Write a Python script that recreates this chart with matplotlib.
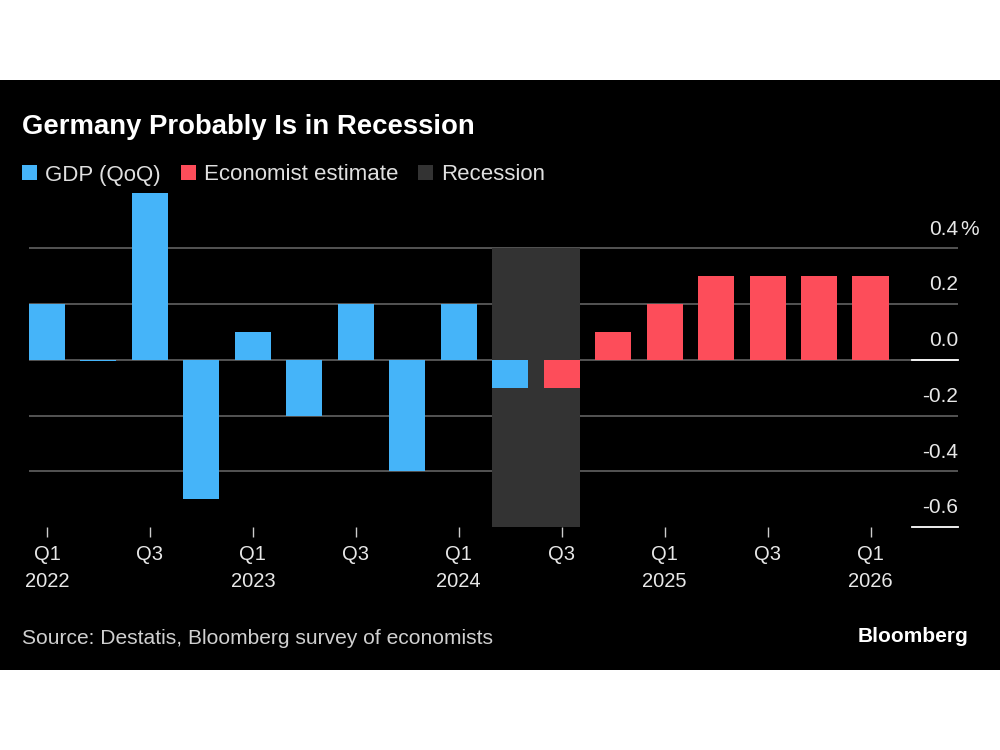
import numpy as np
import matplotlib
matplotlib.use("Agg")
from matplotlib import pyplot as plt
from matplotlib.patches import Patch, Rectangle
import matplotlib.transforms as mtransforms

plt.rcParams['font.family'] = ['Liberation Sans', 'DejaVu Sans']

# quarterly GDP growth, QoQ %
quarters = ["Q1", "Q2", "Q3", "Q4"] * 4 + ["Q1"]
years = [2022] * 4 + [2023] * 4 + [2024] * 4 + [2025] * 4 + [2026]
gdp_actual = [0.2, -0.005, 0.6, -0.5, 0.1, -0.2, 0.2, -0.4, 0.2, -0.1]
gdp_estimate = [-0.1, 0.1, 0.2, 0.3, 0.3, 0.3, 0.3]
recession_quarters = [9, 10]  # Q2 2024 - Q3 2024
y_ticks = [-0.6, -0.4, -0.2, 0.0, 0.2, 0.4]

blue = "#45b4f9"
red = "#fd4d5a"
shade = "#333333"
grid_col = "#626262"

fig = plt.figure(figsize=(10, 7.5), dpi=100, facecolor="white")
# black panel
fig.patches.append(Rectangle((0, 1 - 670 / 750), 1, 590 / 750, transform=fig.transFigure,
                             facecolor="black", edgecolor="none", zorder=-10))

ax = fig.add_axes([0.029, 0.2973, 0.929, 0.446])
ax.set_facecolor("none")

x_act = np.arange(len(gdp_actual))
x_est = np.arange(len(gdp_actual), len(gdp_actual) + len(gdp_estimate))
w = 0.7

ax.set_xlim(-0.35, 17.70)
ax.set_ylim(-0.6, 0.6)

# gridlines
for v in y_ticks:
    if v > -0.6:
        ax.axhline(v, color=grid_col, lw=1.2, zorder=1)

# recession shading
ax.axvspan(recession_quarters[0] - w / 2, recession_quarters[-1] + w / 2,
           ymin=0, ymax=(0.4 + 0.6) / 1.2, color=shade, lw=0, zorder=2)

ax.bar(x_act, gdp_actual, width=w, color=blue, zorder=3)
ax.bar(x_est, gdp_estimate, width=w, color=red, zorder=3)

# short white marks at zero and bottom on the right
trans = mtransforms.blended_transform_factory(ax.transAxes, ax.transData)
for v in [0.0, -0.6]:
    ax.plot([0.9505, 1.0], [v, v], color="white", lw=1.3, transform=trans,
            clip_on=False, zorder=4)

# y labels above gridlines at right
for v in y_ticks:
    ax.annotate(f"{v:.1f}", xy=(1.0, v), xycoords=trans, xytext=(0, 7),
                textcoords="offset points", ha="right", va="bottom",
                fontsize=15, color="#e8e8e8")
ax.annotate("%", xy=(1.0, 0.4), xycoords=trans, xytext=(1.5, 7),
            textcoords="offset points", ha="left", va="bottom",
            fontsize=15, color="#e8e8e8")

# x ticks every other quarter
tick_pos = np.arange(0, len(quarters), 2)
tick_lab = [quarters[i] + ("\n" + str(years[i]) if quarters[i] == "Q1" else "")
            for i in tick_pos]
ax.set_xticks(tick_pos)
ax.set_xticklabels(tick_lab, fontsize=14.5, color="#e8e8e8", linespacing=1.55,
                   va="top")
ax.tick_params(axis="x", direction="out", length=7, width=1, color="#cccccc", pad=6)
ax.set_yticks([])
for s in ax.spines.values():
    s.set_visible(False)

# title, legend, footer
fig.text(0.022, 1 - 127 / 750, "Germany Probably Is in Recession", fontsize=19.8,
         fontweight="bold", color="white", va="center", ha="left")

handles = [Patch(facecolor=blue, label="GDP (QoQ)"),
           Patch(facecolor=red, label="Economist estimate"),
           Patch(facecolor=shade, label="Recession")]
fig.legend(handles=handles, loc="center left", bbox_to_anchor=(0.022, 1 - 175 / 750),
           ncol=3, frameon=False, fontsize=16, labelcolor="#e0e0e0",
           handlelength=0.68, handleheight=0.68, handletextpad=0.36,
           columnspacing=0.9, borderaxespad=0, borderpad=0)

fig.text(0.022, 1 - 638 / 750, "Source: Destatis, Bloomberg survey of economists",
         fontsize=15.1, color="#d0d0d0", va="center", ha="left")
fig.text(0.968, 1 - 636 / 750, "Bloomberg", fontsize=15, fontweight="bold",
         color="white", va="center", ha="right")

fig.savefig("out.png", dpi=100, facecolor="white")
